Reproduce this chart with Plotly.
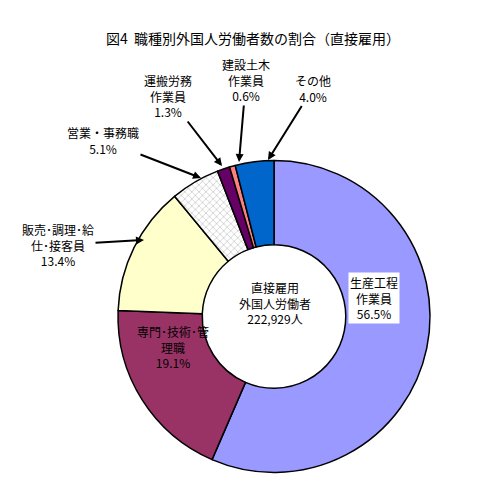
import plotly.graph_objects as go

labels = ["生産工程作業員", "専門・技術・管理職", "販売・調理・給仕・接客員", "営業・事務職", "運搬労務作業員", "建設土木作業員", "その他"]
values = [56.5, 19.1, 13.4, 5.1, 1.3, 0.6, 4.0]
colors = ["#9999FF", "#993366", "#FFFFCC", "#FFFFFF", "#660066", "#FF8080", "#0066CC"]

W, H = 481, 480
def px(x, y):
    return x / W, 1 - y / H

fig = go.Figure(go.Pie(
    labels=labels, values=values, sort=False, direction="clockwise", rotation=0,
    hole=0.46, textinfo="none", hoverinfo="label+percent",
    marker=dict(colors=colors, line=dict(color="black", width=1.5),
                pattern=dict(shape=["", "", "", "x", "", "", ""], fgcolor="#999999", size=5, solidity=0.15)),
    domain=dict(x=[110 / W, 422 / W], y=[1 - 468 / H, 1 - 149 / H]),
    showlegend=False,
))

F = "Noto Sans CJK JP"
ann = []
def text(x, y, t, **kw):
    xx, yy = px(x, y)
    ann.append(dict(x=xx, y=yy, xref="paper", yref="paper", text=t, showarrow=False,
                    font=dict(family=F, size=12, color="black"), **kw))
def arrow(hx, hy, tx, ty, t):
    xx, yy = px(hx, hy)
    ann.append(dict(x=xx, y=yy, xref="paper", yref="paper", ax=tx - hx, ay=ty - hy, text=t,
                    showarrow=True, arrowhead=2, arrowwidth=2, arrowsize=0.8, arrowcolor="black",
                    font=dict(family=F, size=12, color="black")))

ann.append(dict(x=245 / W, y=1 - 18 / H, xref="paper", yref="paper", showarrow=False,
                text="図4  職種別外国人労働者数の割合（直接雇用）", font=dict(family=F, size=14, color="black")))
text(267, 295, "直接雇用<br>外国人労働者<br>222,929人")
text(392, 290, "生産工程<br>作業員<br>56.5%", bgcolor="white")
text(165, 365, "専門･技術･管<br>理職<br>19.1%")
arrow(136, 232, 50, 237, "販売･調理･給<br>仕･接客員<br>13.4%")
arrow(193, 170, 95, 132, "営業・事務職<br>5.1%")
arrow(214, 158, 160, 88, "運搬労務<br>作業員<br>1.3%")
arrow(231, 154, 238, 72, "建設土木<br>作業員<br>0.6%")
arrow(260, 152, 305, 80, "その他<br>4.0%")

fig.update_layout(width=W, height=H, margin=dict(l=0, r=0, t=0, b=0),
                  paper_bgcolor="white", plot_bgcolor="white", annotations=ann,
                  font=dict(family=F))
fig.write_html("out.html")
